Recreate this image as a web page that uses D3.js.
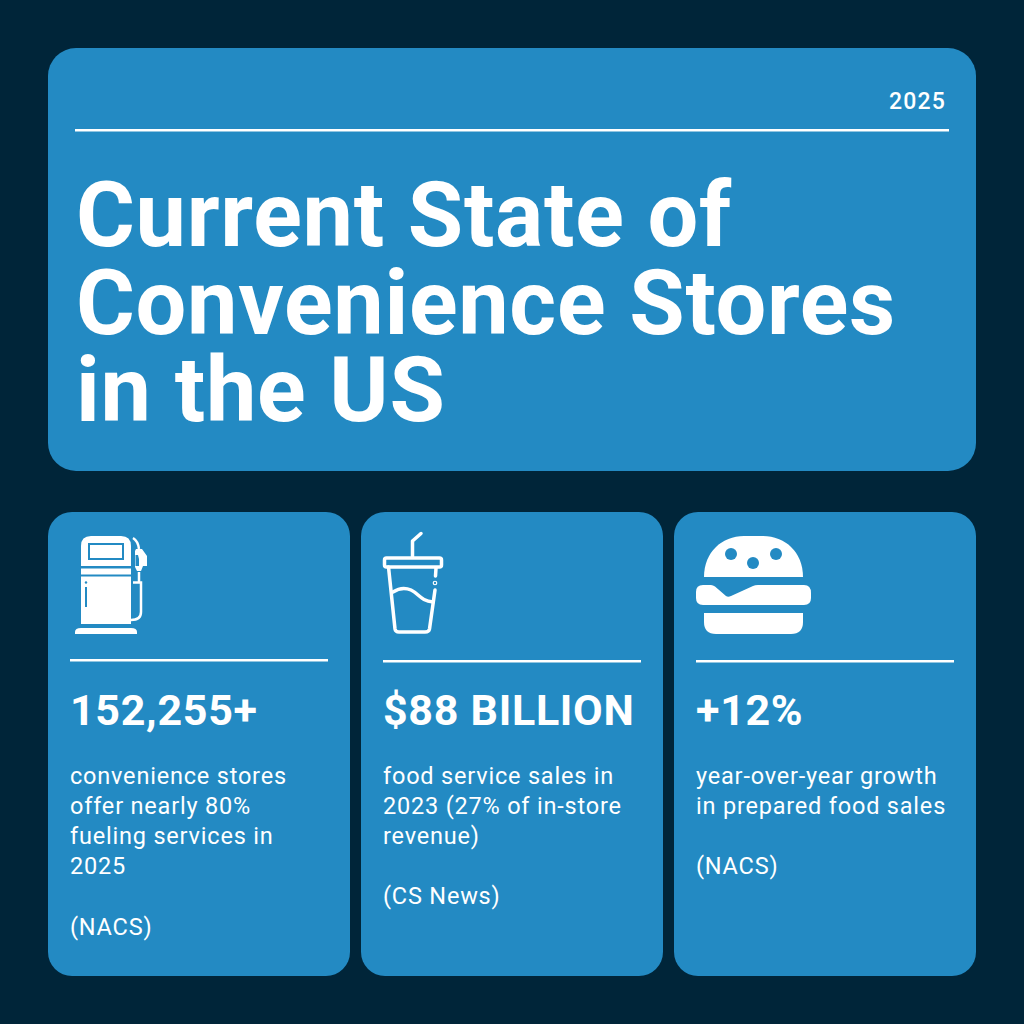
<!DOCTYPE html>
<html><head><meta charset="utf-8">
<script src="https://cdn.jsdelivr.net/npm/d3@7"></script>
<style>html,body{margin:0;padding:0;background:#002539;overflow:hidden}svg{display:block}text{font-family:Roboto,sans-serif;fill:#fff}</style>
</head><body>
<script>
const yearLabel = "2025";
const titleLines = ["Current State of", "Convenience Stores", "in the US"];
const statValues = ["152,255+", "$88 BILLION", "+12%"];
const statNotes = [
  ["convenience stores", "offer nearly 80%", "fueling services in", "2025", "", "(NACS)"],
  ["food service sales in", "2023 (27% of in-store", "revenue)", "", "(CS News)"],
  ["year-over-year growth", "in prepared food sales", "", "(NACS)"]
];
const NAVY = "#002539", BLUE = "#238ac3", WHITE = "#ffffff";
const svg = d3.select("body").append("svg").attr("width", 1024).attr("height", 1024);
svg.append("rect").attr("width", 1024).attr("height", 1024).attr("fill", NAVY);

// header
svg.append("rect").attr("x", 48).attr("y", 48).attr("width", 928).attr("height", 423).attr("rx", 28).attr("fill", BLUE);
svg.append("text").attr("x", 946).attr("y", 108.500).attr("text-anchor", "end").attr("font-size", 23).attr("font-weight", 500).attr("letter-spacing", 1.2).text(yearLabel);
svg.append("rect").attr("x", 75).attr("y", 129).attr("width", 874).attr("height", 2.500).attr("fill", WHITE);
svg.selectAll(".title").data(titleLines).join("text").attr("class", "title")
  .attr("x", 76).attr("y", (d, i) => 246 + i * 87.5)
  .attr("font-size", 90).attr("font-weight", 700).attr("letter-spacing", 0.7).text(d => d);

// cards
const cardX = d3.scaleOrdinal().domain([0, 1, 2]).range([48, 361, 674]);
const ruleY = [659, 660, 660];
const cards = svg.selectAll(".card").data(statValues).join("g").attr("class", "card")
  .attr("transform", (d, i) => `translate(${cardX(i)},0)`);
cards.append("rect").attr("y", 512).attr("width", 302).attr("height", 464).attr("rx", 24).attr("fill", BLUE);
cards.append("rect").attr("x", 22).attr("y", (d, i) => ruleY[i]).attr("width", 258).attr("height", 2.500).attr("fill", WHITE);
cards.append("text").attr("x", 22).attr("y", 725).attr("font-size", 43).attr("font-weight", 700).attr("letter-spacing", 0.7).text(d => d);
cards.each(function (d, i) {
  d3.select(this).selectAll(".note").data(statNotes[i]).join("text").attr("class", "note")
    .attr("x", 22).attr("y", (t, j) => 784 + j * 30.1)
    .attr("font-size", 23.5).attr("letter-spacing", 0.8).text(t => t);
});

// fuel pump icon
const pump = svg.append("g");
pump.append("path").attr("fill", WHITE).attr("fill-rule", "evenodd").attr("d",
  "M81 566V546Q81 536 91 536H121Q131 536 131 546V566Z M88 543V560H124V543Z M90 545H122V558H90Z");
pump.append("rect").attr("x", 81).attr("y", 568.5).attr("width", 50).attr("height", 6).attr("fill", WHITE);
pump.append("path").attr("fill", WHITE).attr("fill-rule", "evenodd").attr("d",
  "M81 576.500H131V624H81Z M85 587V607H87V587Z");
pump.append("circle").attr("cx", 86).attr("cy", 582.500).attr("r", 1.2).attr("fill", BLUE);
pump.append("path").attr("fill", WHITE).attr("d", "M75 634V632Q75 628 81 628H131Q137 628 137 632V634Z");
pump.append("path").attr("fill", "none").attr("stroke", WHITE).attr("stroke-width", 2.500).attr("d",
  "M133 538Q138 541 139 549 M133 582.500H141V612Q141 620 131 620 M139 572V582");
pump.append("path").attr("fill", WHITE).attr("fill-rule", "evenodd").attr("d",
  "M136 549H142L147 556V566H143L141 571H137L135 567V551Z M135.500 555V566H139V559L138 555Z");

// cup icon
const cup = svg.append("g").attr("fill", "none").attr("stroke", WHITE).attr("stroke-width", 3.500).attr("stroke-linecap", "round").attr("stroke-linejoin", "round");
cup.append("path").attr("d", "M412.500 557V541L421 533.500");
cup.append("rect").attr("x", 384.500).attr("y", 558).attr("width", 57).attr("height", 9).attr("rx", 2);
cup.append("path").attr("d", "M388.500 567L395 629Q395.500 632 399 632H425Q429 632 429.500 629L435 590");
cup.append("path").attr("d", "M436 568L435.500 576");
cup.append("path").attr("d", "M393 592Q402 586 411 590C419 594 421 601 433 602");
cup.append("circle").attr("cx", 435).attr("cy", 583).attr("r", 0.6);

// burger icon
const burger = svg.append("g");
burger.append("path").attr("fill", WHITE).attr("d", "M704 577C704 552 722 536 744 536H763C785 536 803 552 803 577Z");
burger.selectAll(".seed").data([[731, 554], [753, 563], [776, 554]]).join("circle").attr("class", "seed")
  .attr("cx", d => d[0]).attr("cy", d => d[1]).attr("r", 6).attr("fill", BLUE);
burger.append("path").attr("fill", WHITE).attr("d",
  "M703 585H711Q713 585 715 586.500L726 596Q728 597.500 731 596L753 586Q755 585 758 585H804Q811 585 811 593V598Q811 605 804 605H703Q696 605 696 598V592Q696 585 703 585Z");
burger.append("path").attr("fill", WHITE).attr("d", "M704 613H803V622Q803 634 791 634H716Q704 634 704 622Z");
</script>
</body></html>
